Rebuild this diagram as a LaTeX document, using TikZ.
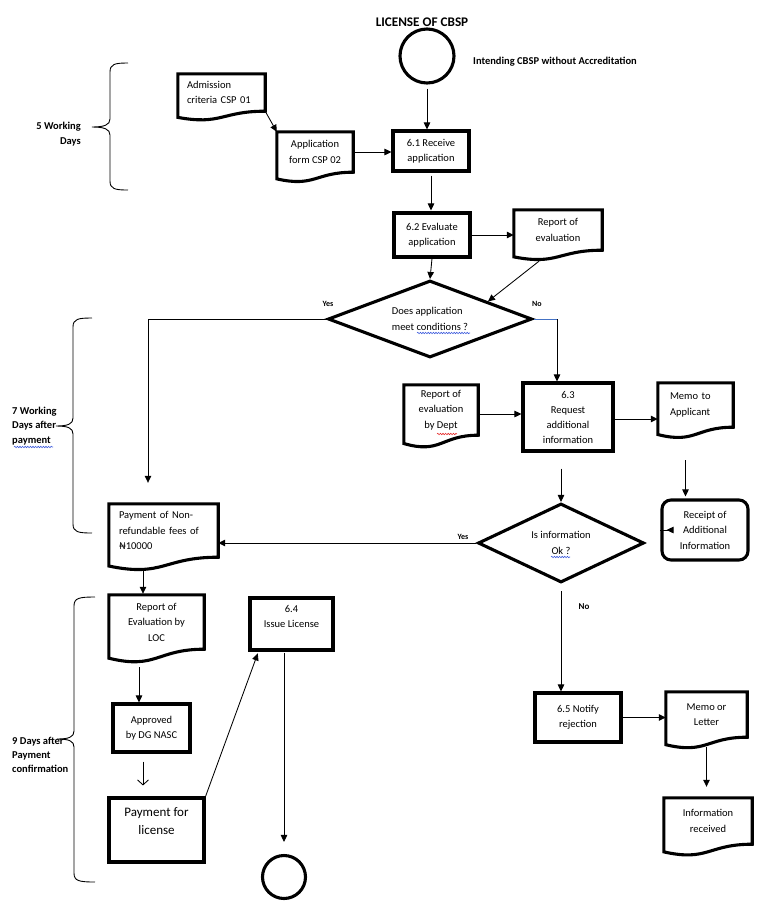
\documentclass[tikz,border=0pt]{standalone}
\usepackage{fontspec}
\setmainfont{Carlito}
\usetikzlibrary{shapes.geometric,arrows.meta,calc,decorations.pathmorphing}
\definecolor{nolineblue}{RGB}{68,114,196}
\definecolor{squigred}{RGB}{230,40,40}
\definecolor{squigblue}{RGB}{60,90,220}
\newcommand{\docpath}[1]{%
  \draw[boxline] (#1.north west) -- (#1.north east) -- (#1.south east)
    .. controls (#1.south) and ($(#1.north)!1.38!(#1.south)$) .. ($(#1.north west)!1.165!(#1.south west)$) -- cycle;}
\newcommand{\mybrace}[6]{% x line, top, bottom, tip y, tip x, arm x
  \draw[bracel] (#6,#2) .. controls ({#1+5},#2) and (#1,{#2+1}) .. (#1,{#2+9}) -- (#1,{#4-8})
    .. controls (#1,{#4-2}) and ({#5+12},#4) .. (#5,#4)
    .. controls ({#5+12},#4) and (#1,{#4+2}) .. (#1,{#4+8}) -- (#1,{#3-9})
    .. controls (#1,{#3-1}) and ({#1+5},#3) .. (#6,#3);}
\tikzset{
  boxline/.style={line width=3.1pt, line join=miter},
  proc/.style={draw, boxline, rectangle, align=center, inner sep=2pt},
  docn/.style={rectangle, align=center, inner sep=2pt},
  dec/.style={draw, boxline, diamond, inner sep=0pt, align=left},
  arr/.style={line width=0.85pt, -{Triangle[length=7pt,width=6.5pt]}},
  openarr/.style={line width=0.85pt, -{Straight Barb[length=5pt,width=11pt]}},
  bl/.style={font=\bfseries\fontsize{10.5}{14.5}\selectfont, inner sep=0pt},
  yn/.style={font=\bfseries\fontsize{8}{10}\selectfont, inner sep=0pt},
  bracel/.style={line width=0.9pt},
  squig/.style={line width=0.6pt, decorate, decoration={snake, amplitude=0.7pt, segment length=2.6pt}},
}
\begin{document}
\begin{tikzpicture}[x=1pt, y=-1pt, every node/.style={font=\fontsize{10.5}{15.5}\selectfont}]
\useasboundingbox (0,0) rectangle (772,903);

% title and start
\node[font=\bfseries\fontsize{13.2}{15}\selectfont] (title) at (422,22) {LICENSE OF CBSP};
\node[draw, boxline, circle, minimum size=54pt, inner sep=0pt] (startc) at (427,56) {};
\node[bl, anchor=west] (intend) at (473,62) {Intending CBSP without Accreditation};

% first block
\node[docn, minimum width=87pt, minimum height=37pt, text width=69pt, align=left] (adm) at (221.5,92.5) {Admission\\criteria CSP 01};
\docpath{adm}
\node[docn, minimum width=76pt, minimum height=40pt] (appf) at (315,152) {Application\\form CSP 02};
\docpath{appf}
\node[proc, minimum width=76pt, minimum height=40pt] (recv) at (431,151) {6.1 Receive\\application};
\node[proc, minimum width=76pt, minimum height=44pt] (eval) at (432,235) {6.2 Evaluate\\application};
\node[docn, minimum width=88pt, minimum height=40pt] (repev) at (558,230) {Report of\\evaluation};
\docpath{repev}
\node[dec, aspect=2.5, minimum width=204pt, minimum height=77pt] (d1) at (430,319) {Does application\\meet conditions ?};

% middle block
\node[docn, minimum width=74pt, minimum height=50pt] (repdept) at (441,410) {Report of\\evaluation\\by Dept};
\docpath{repdept}
\node[proc, minimum width=90pt, minimum height=68pt, font=\fontsize{10.5}{15}\selectfont] (req) at (568,417) {6.3\\Request\\additional\\information};
\node[docn, minimum width=75pt, minimum height=44pt, text width=51pt, align=left] (memo) at (695.5,405) {Memo to\\Applicant};
\docpath{memo}
\node[proc, rounded corners=9pt, minimum width=86pt, minimum height=60pt] (receipt) at (705,530) {Receipt of\\Additional\\Information};
\node[dec, aspect=2.1, minimum width=166pt, minimum height=79pt, align=center] (d2) at (561,543) {Is information\\Ok ?};
\node[docn, minimum width=109pt, minimum height=53pt, text width=89pt, align=left] (pay) at (163.5,530.5) {Payment of Non-\\refundable fees of\\₦10000};
\docpath{pay}

% lower block
\node[docn, minimum width=95pt, minimum height=54pt] (loc) at (156.5,622) {Report of\\Evaluation by\\LOC};
\docpath{loc}
\node[proc, minimum width=77pt, minimum height=48pt] (appr) at (151.5,728) {Approved\\by DG NASC};
\node[proc, minimum width=95pt, minimum height=64pt, font=\fontsize{13}{18}\selectfont] (payl) at (156.5,830) {Payment for\\license\\\mbox{}};
\node[proc, minimum width=83pt, minimum height=52pt, font=\fontsize{10.5}{15}\selectfont] (iss) at (291.5,624) {6.4\\Issue License\\\mbox{}};
\node[draw, boxline, circle, minimum size=43pt, inner sep=0pt] (endc) at (284,877) {};
\node[proc, minimum width=86pt, minimum height=49pt] (notify) at (578,717.5) {6.5 Notify\\rejection};
\node[docn, minimum width=81pt, minimum height=45pt] (memol) at (706.5,714.5) {Memo or\\Letter};
\docpath{memol}
\node[docn, minimum width=88pt, minimum height=46pt] (info) at (708,821) {Information\\received};
\docpath{info}

% braces and their labels
\mybrace{110}{63}{190}{127}{92}{128}
\node[bl, align=right, anchor=east] (lab5) at (81,134) {5 Working\\Days};
\mybrace{73}{318}{533}{426}{56}{92}
\node[bl, align=left, anchor=west] (lab7) at (12,426) {7 Working\\Days after\\payment};
\mybrace{74}{597}{882}{739}{57}{95}
\node[bl, align=left, anchor=west, font=\bfseries\fontsize{10.5}{14}\selectfont] (lab9) at (12,755) {9 Days after\\Payment\\confirmation};

% yes / no labels
\node[yn] (yes1) at (328,304) {Yes};
\node[yn] (no1) at (537,304) {No};
\node[yn] (yes2) at (463,537) {Yes};
\node[yn, font=\bfseries\fontsize{9}{11}\selectfont] (no2) at (584,607) {No};

% connectors
\draw[arr, shorten <=4pt] (startc.south) -- (startc.south |- recv.north);
\draw[arr] (adm.south east) -- (appf.north west);
\draw[arr] (appf.east) -- (appf.east -| recv.west);
\draw[arr, shorten <=3pt, shorten >=1pt] (recv.south) -- (recv.south |- eval.north);
\draw[arr] (eval.east) -- (eval.east -| repev.west);
\draw[arr] ([shift={(-19,11)}]repev.south) -- ($(d1.north)!0.56!(d1.east)$);
\draw[arr] (eval.south) -- (d1.north);
\draw[arr, shorten >=21pt] (d1.west) -| ([xshift=-15.5pt]pay.north);
\coordinate (nocorner) at (557,319);
\draw[line width=0.85pt, nolineblue] (d1.east) -- (nocorner);
\draw[arr] (nocorner) -- (nocorner |- req.north);
\draw[arr] ([yshift=-4pt]repdept.east) -- ([yshift=-4pt]repdept.east -| req.west);
\draw[arr] ([yshift=-2pt]req.east) -- ([yshift=-2pt]req.east -| memo.west);
\draw[arr, shorten <=33pt, shorten >=2pt] ([xshift=-10pt]memo.south) -- ([xshift=-10pt]memo.south |- receipt.north);
\draw[arr, shorten >=21pt] (receipt.west) -- (receipt.west -| d2.east);
\draw[arr, shorten <=16pt] (d2.north |- req.south) -- (d2.north);
\draw[arr] (d2.west) -- (d2.west -| pay.east);
\draw[arr, shorten <=7pt] (d2.south) -- (d2.south |- notify.north);
\draw[arr, shorten <=11pt, shorten >=1pt] ([xshift=-20.5pt]pay.south) -- ([xshift=-20.5pt]pay.south |- loc.north);
\draw[arr, shorten <=18pt] ([xshift=-17.5pt]loc.south) -- ([xshift=-17.5pt]loc.south |- appr.north);
\draw[openarr, shorten <=8pt, shorten >=11pt] ([xshift=-8.5pt]appr.south) -- ([xshift=-8.5pt]appr.south |- payl.north);
\draw[arr, shorten >=2pt] (payl.north east) -- ([xshift=10pt]iss.south west);
\draw[arr, shorten <=1pt, shorten >=12pt] (iss.south -| endc.north) -- (endc.north);
\draw[arr] (notify.east) -- (notify.east -| memol.west);
\draw[arr, shorten <=10pt, shorten >=11pt] (memol.south) -- (memol.south |- info.north);

% spell-check marks
\draw[squig, squigblue] (417,333) -- (470,333);
\draw[squig, squigred] (437,434) -- (457,434);
\draw[squig, squigblue] (551,557) -- (570,557);
\draw[squig, squigblue] (14,447) -- (53,447);
\end{tikzpicture}
\end{document}
